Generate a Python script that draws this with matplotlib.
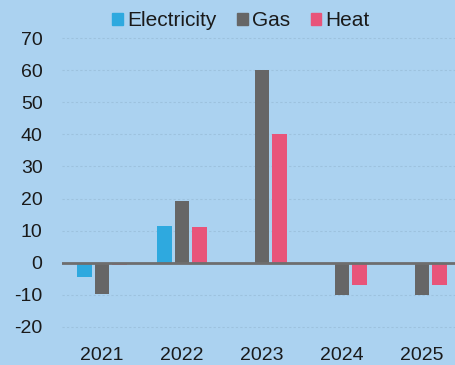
import matplotlib
matplotlib.use("Agg")
import matplotlib.pyplot as plt
import numpy as np
from matplotlib.patches import Patch

years = ["2021", "2022", "2023", "2024", "2025"]
electricity = [-4.5, 11.5, 0, 0, 0]
gas = [-9.7, 19.2, 60, -10, -10]
heat = [-0.8, 11.1, 40, -6.8, -6.8]
y_ticks = [-20, -10, 0, 10, 20, 30, 40, 50, 60, 70]

bg = "#ABD2F0"
c_elec = "#2EA9DF"
c_gas = "#666666"
c_heat = "#E8547A"

plt.rcParams["font.family"] = ["Liberation Sans", "DejaVu Sans"]
plt.rcParams["axes.unicode_minus"] = False

fig = plt.figure(figsize=(4.55, 3.65), dpi=100, facecolor=bg)
ax = fig.add_axes([62 / 455, (365 - 343) / 365, 400 / 455, 321 / 365])
ax.set_facecolor(bg)

x = np.arange(len(years))
w = 0.18
off = 0.22
ax.bar(x - off, electricity, w, color=c_elec, zorder=2)
ax.bar(x, gas, w, color=c_gas, zorder=2)
ax.bar(x + off, heat, w, color=c_heat, zorder=2)

ax.axhline(0, color="#6E6E6E", lw=2, zorder=3)

ax.set_xlim(-0.5, len(years) - 0.5)
ax.set_ylim(-25, 75)
ax.set_yticks(y_ticks)
ax.set_xticks(x)
ax.set_xticklabels(years)
ax.tick_params(axis="both", length=0, labelsize=14, colors="#1A1A1A")
ax.tick_params(axis="y", pad=14)
ax.tick_params(axis="x", pad=3)
ax.grid(axis="y", color="#9DC2DE", lw=0.8, ls=(0, (2, 2)), zorder=1)
ax.set_axisbelow(True)
for s in ax.spines.values():
    s.set_visible(False)

handles = [Patch(color=c_elec, label="Electricity"),
           Patch(color=c_gas, label="Gas"),
           Patch(color=c_heat, label="Heat")]
fig.legend(handles=handles, loc="center", bbox_to_anchor=(241 / 455, 1 - 21 / 365),
           ncol=3, frameon=False, fontsize=15, handlelength=0.5, handleheight=0.5,
           handletextpad=0.2, columnspacing=1.0, labelcolor="#1A1A1A")

fig.savefig("out.png", dpi=100, facecolor=bg)
